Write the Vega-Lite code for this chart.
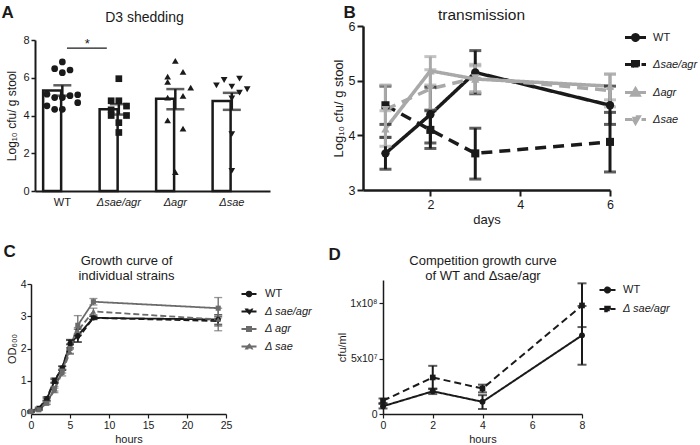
{
  "$schema": "https://vega.github.io/schema/vega-lite/v6.json",
  "padding": {"left": 1, "top": 3, "right": 0, "bottom": 0},
  "background": "white",
  "config": {
    "font": "Liberation Sans",
    "view": {"stroke": null},
    "axis": {"grid": false, "domainColor": "#1a1a1a", "tickColor": "#1a1a1a", "labelColor": "#1a1a1a", "titleColor": "#1a1a1a", "titleFontWeight": "normal", "labelFlush": false},
    "legend": {"padding": 0, "labelColor": "#1a1a1a"}
  },
  "datasets": {
    "A_sum": [
      {"g": "WT", "mean": 5.33, "lo": 5.05, "hi": 5.6},
      {"g": "Δsae/agr", "mean": 4.33, "lo": 4.05, "hi": 4.6},
      {"g": "Δagr", "mean": 4.89, "lo": 4.33, "hi": 5.4},
      {"g": "Δsae", "mean": 4.77, "lo": 4.3, "hi": 5.2}
    ],
    "A_pts": [
      {"g": "WT", "col": 3, "v": 6.84}, {"g": "WT", "col": 2, "v": 6.48}, {"g": "WT", "col": 3, "v": 6.27},
      {"g": "WT", "col": 4, "v": 6.41}, {"g": "WT", "col": 1, "v": 5.13}, {"g": "WT", "col": 2, "v": 4.95},
      {"g": "WT", "col": 3, "v": 4.95}, {"g": "WT", "col": 4, "v": 5.05}, {"g": "WT", "col": 5, "v": 5.1},
      {"g": "WT", "col": 5, "v": 4.68}, {"g": "WT", "col": 1, "v": 4.51}, {"g": "WT", "col": 2, "v": 4.33},
      {"g": "WT", "col": 3, "v": 4.33},
      {"g": "Δsae/agr", "col": 3, "v": 5.95}, {"g": "Δsae/agr", "col": 2, "v": 4.78}, {"g": "Δsae/agr", "col": 3, "v": 4.78},
      {"g": "Δsae/agr", "col": 4, "v": 4.5}, {"g": "Δsae/agr", "col": 2, "v": 4.3}, {"g": "Δsae/agr", "col": 2, "v": 4.0},
      {"g": "Δsae/agr", "col": 4, "v": 4.0}, {"g": "Δsae/agr", "col": 3, "v": 3.62}, {"g": "Δsae/agr", "col": 3, "v": 3.1},
      {"g": "Δagr", "col": 3, "v": 6.89}, {"g": "Δagr", "col": 4, "v": 6.31}, {"g": "Δagr", "col": 2, "v": 6.06},
      {"g": "Δagr", "col": 2, "v": 5.78}, {"g": "Δagr", "col": 5, "v": 5.48}, {"g": "Δagr", "col": 4, "v": 5.04},
      {"g": "Δagr", "col": 2, "v": 4.95}, {"g": "Δagr", "col": 2, "v": 3.74}, {"g": "Δagr", "col": 4, "v": 3.3},
      {"g": "Δagr", "col": 3, "v": 1.0},
      {"g": "Δsae", "col": 2, "v": 5.88}, {"g": "Δsae", "col": 4, "v": 5.95}, {"g": "Δsae", "col": 1, "v": 5.6},
      {"g": "Δsae", "col": 3, "v": 5.53}, {"g": "Δsae", "col": 5, "v": 5.39}, {"g": "Δsae", "col": 4, "v": 5.21},
      {"g": "Δsae", "col": 3, "v": 4.9}, {"g": "Δsae", "col": 3, "v": 3.01}, {"g": "Δsae", "col": 3, "v": 1.07}
    ],
    "A_sig": [{"a": "WT", "b": "Δsae/agr", "y": 7.57, "ystar": 7.8, "label": "*"}],
    "B": [
      {"day": 1, "strain": "WT", "mean": 3.67, "lo": 3.38, "hi": 3.96},
      {"day": 2, "strain": "WT", "mean": 4.38, "lo": 3.86, "hi": 4.88},
      {"day": 3, "strain": "WT", "mean": 5.15, "lo": 4.76, "hi": 5.55},
      {"day": 6, "strain": "WT", "mean": 4.55, "lo": 4.2, "hi": 4.9},
      {"day": 1, "strain": "Δsae/agr", "mean": 4.55, "lo": 4.2, "hi": 4.9},
      {"day": 2, "strain": "Δsae/agr", "mean": 4.1, "lo": 3.76, "hi": 4.45},
      {"day": 3, "strain": "Δsae/agr", "mean": 3.67, "lo": 3.2, "hi": 4.13},
      {"day": 6, "strain": "Δsae/agr", "mean": 3.88, "lo": 3.33, "hi": 4.42},
      {"day": 1, "strain": "Δagr", "mean": 4.12, "lo": 3.8, "hi": 4.45},
      {"day": 2, "strain": "Δagr", "mean": 5.18, "lo": 4.92, "hi": 5.44},
      {"day": 3, "strain": "Δagr", "mean": 5.03, "lo": 4.8, "hi": 5.27},
      {"day": 6, "strain": "Δagr", "mean": 4.9, "lo": 4.65, "hi": 5.12},
      {"day": 1, "strain": "Δsae", "mean": 4.47, "lo": 3.97, "hi": 4.92},
      {"day": 2, "strain": "Δsae", "mean": 4.85, "lo": 4.47, "hi": 5.2},
      {"day": 3, "strain": "Δsae", "mean": 5.05, "lo": 4.78, "hi": 5.3},
      {"day": 6, "strain": "Δsae", "mean": 4.82, "lo": 4.52, "hi": 5.12}
    ],
    "C": [
      {"hour": 0, "strain": "WT", "od": 0.05, "lo": 0.03, "hi": 0.07},
      {"hour": 1, "strain": "WT", "od": 0.12, "lo": 0.1, "hi": 0.14},
      {"hour": 2, "strain": "WT", "od": 0.42, "lo": 0.38, "hi": 0.46},
      {"hour": 3, "strain": "WT", "od": 0.98, "lo": 0.92, "hi": 1.04},
      {"hour": 4, "strain": "WT", "od": 1.4, "lo": 1.34, "hi": 1.46},
      {"hour": 5, "strain": "WT", "od": 2.15, "lo": 2.02, "hi": 2.25},
      {"hour": 6, "strain": "WT", "od": 2.4, "lo": 2.2, "hi": 2.6},
      {"hour": 8, "strain": "WT", "od": 2.95, "lo": 2.9, "hi": 3.0},
      {"hour": 24, "strain": "WT", "od": 2.9, "lo": 2.75, "hi": 3.05},
      {"hour": 0, "strain": "Δ sae/agr", "od": 0.05, "lo": 0.03, "hi": 0.07},
      {"hour": 1, "strain": "Δ sae/agr", "od": 0.15, "lo": 0.12, "hi": 0.18},
      {"hour": 2, "strain": "Δ sae/agr", "od": 0.45, "lo": 0.4, "hi": 0.5},
      {"hour": 3, "strain": "Δ sae/agr", "od": 1.02, "lo": 0.95, "hi": 1.08},
      {"hour": 4, "strain": "Δ sae/agr", "od": 1.38, "lo": 1.32, "hi": 1.44},
      {"hour": 5, "strain": "Δ sae/agr", "od": 2.2, "lo": 2.12, "hi": 2.28},
      {"hour": 6, "strain": "Δ sae/agr", "od": 2.3, "lo": 2.2, "hi": 2.4},
      {"hour": 8, "strain": "Δ sae/agr", "od": 2.95, "lo": 2.9, "hi": 3.0},
      {"hour": 24, "strain": "Δ sae/agr", "od": 2.85, "lo": 2.7, "hi": 3.0},
      {"hour": 0, "strain": "Δ agr", "od": 0.05, "lo": 0.03, "hi": 0.07},
      {"hour": 1, "strain": "Δ agr", "od": 0.1, "lo": 0.08, "hi": 0.12},
      {"hour": 2, "strain": "Δ agr", "od": 0.3, "lo": 0.26, "hi": 0.34},
      {"hour": 3, "strain": "Δ agr", "od": 0.75, "lo": 0.68, "hi": 0.82},
      {"hour": 4, "strain": "Δ agr", "od": 1.3, "lo": 1.24, "hi": 1.36},
      {"hour": 5, "strain": "Δ agr", "od": 2.0, "lo": 1.85, "hi": 2.15},
      {"hour": 6, "strain": "Δ agr", "od": 2.72, "lo": 2.45, "hi": 3.02},
      {"hour": 8, "strain": "Δ agr", "od": 3.45, "lo": 3.35, "hi": 3.55},
      {"hour": 24, "strain": "Δ agr", "od": 3.25, "lo": 2.95, "hi": 3.58},
      {"hour": 0, "strain": "Δ sae", "od": 0.05, "lo": 0.03, "hi": 0.07},
      {"hour": 1, "strain": "Δ sae", "od": 0.1, "lo": 0.08, "hi": 0.12},
      {"hour": 2, "strain": "Δ sae", "od": 0.32, "lo": 0.28, "hi": 0.36},
      {"hour": 3, "strain": "Δ sae", "od": 0.7, "lo": 0.63, "hi": 0.77},
      {"hour": 4, "strain": "Δ sae", "od": 1.25, "lo": 1.15, "hi": 1.35},
      {"hour": 5, "strain": "Δ sae", "od": 1.9, "lo": 1.82, "hi": 1.98},
      {"hour": 6, "strain": "Δ sae", "od": 2.55, "lo": 2.45, "hi": 2.65},
      {"hour": 8, "strain": "Δ sae", "od": 3.15, "lo": 3.05, "hi": 3.25},
      {"hour": 24, "strain": "Δ sae", "od": 2.9, "lo": 2.55, "hi": 3.25}
    ],
    "D": [
      {"hour": 0, "strain": "WT", "cfu": 7000000, "lo": 5000000, "hi": 9000000},
      {"hour": 2, "strain": "WT", "cfu": 20500000, "lo": 18000000, "hi": 23000000},
      {"hour": 4, "strain": "WT", "cfu": 11000000, "lo": 4500000, "hi": 17000000},
      {"hour": 8, "strain": "WT", "cfu": 71000000, "lo": 44500000, "hi": 97500000},
      {"hour": 0, "strain": "Δ sae/agr", "cfu": 12000000, "lo": 10000000, "hi": 14000000},
      {"hour": 2, "strain": "Δ sae/agr", "cfu": 33000000, "lo": 22500000, "hi": 43500000},
      {"hour": 4, "strain": "Δ sae/agr", "cfu": 23000000, "lo": 19500000, "hi": 26500000},
      {"hour": 8, "strain": "Δ sae/agr", "cfu": 98000000, "lo": 78500000, "hi": 118000000}
    ]
  },
  "columns": 2,
  "bounds": "flush",
  "spacing": {"row": 89, "column": 93},
  "resolve": {"scale": {"color": "independent", "shape": "independent", "strokeDash": "independent", "xOffset": "independent"}, "legend": {"color": "independent", "shape": "independent", "strokeDash": "independent"}},
  "concat": [
    {
      "width": 239,
      "height": 165,
      "layer": [
        {
          "data": {"name": "A_sum"},
          "mark": {"type": "bar", "fill": "white", "stroke": "#1a1a1a", "strokeWidth": 2.5},
          "encoding": {
            "x": {"field": "g", "type": "nominal", "sort": ["WT", "Δsae/agr", "Δagr", "Δsae"],
              "scale": {"domain": ["WT", "Δsae/agr", "Δagr", "Δsae"], "range": [4, 239], "paddingInner": 0.32, "paddingOuter": 0.24, "align": 0.3},
              "axis": {"orient": "bottom", "title": null, "ticks": false, "domainWidth": 2, "labelAngle": 0, "labelFontSize": 11, "labelPadding": 5,
                "labelFontStyle": {"condition": {"test": "datum.value === 'WT'", "value": "normal"}, "value": "italic"}}},
            "y": {"field": "mean", "type": "quantitative",
              "scale": {"domain": [0, 8], "range": [165, 14], "nice": false, "zero": true},
              "axis": {"orient": "left", "offset": -4, "title": "Log₁₀ cfu/ g stool", "values": [0, 2, 4, 6, 8], "tickSize": 4, "tickWidth": 1.5, "domainWidth": 2, "labelFontSize": 11, "labelPadding": 2, "titleFontSize": 12, "titlePadding": 4}}
          }
        },
        {
          "data": {"name": "A_sum"},
          "mark": {"type": "errorbar", "color": "#1a1a1a", "ticks": {"size": 18, "thickness": 2.5}, "rule": {"strokeWidth": 2.5}},
          "encoding": {
            "x": {"field": "g", "type": "nominal", "sort": ["WT", "Δsae/agr", "Δagr", "Δsae"], "axis": null},
            "y": {"field": "lo", "type": "quantitative", "axis": null},
            "y2": {"field": "hi"}
          }
        },
        {
          "data": {"name": "A_pts"},
          "mark": {"type": "point", "filled": true, "opacity": 1, "color": "#1a1a1a", "size": 45},
          "encoding": {
            "x": {"field": "g", "type": "nominal", "sort": ["WT", "Δsae/agr", "Δagr", "Δsae"],
              "axis": {"orient": "top", "title": "D3 shedding", "titleX": 113, "titleY": -5, "titleAlign": "center", "titleBaseline": "alphabetic", "titleAngle": 0, "titleFontSize": 14, "domain": false, "ticks": false, "labels": false, "grid": false}},
            "xOffset": {"field": "col", "type": "ordinal"},
            "y": {"field": "v", "type": "quantitative",
              "axis": {"orient": "left", "title": "A", "titleX": -30, "titleY": -8.3, "titleAngle": 0, "titleAlign": "left", "titleBaseline": "alphabetic", "titleFontSize": 17, "titleFontWeight": "bold", "domain": false, "ticks": false, "labels": false, "grid": false}},
            "shape": {"field": "g", "type": "nominal", "scale": {"domain": ["WT", "Δsae/agr", "Δagr", "Δsae"], "range": ["circle", "square", "triangle-up", "triangle-down"]}, "legend": null}
          }
        },
        {
          "data": {"name": "A_sig"},
          "mark": {"type": "rule", "strokeWidth": 1.2, "color": "#1a1a1a", "x2Offset": -12},
          "encoding": {
            "x": {"field": "a", "type": "nominal", "sort": ["WT", "Δsae/agr", "Δagr", "Δsae"], "bandPosition": 0.62, "axis": null},
            "x2": {"field": "b"},
            "y": {"field": "y", "type": "quantitative", "axis": null}
          }
        },
        {
          "data": {"name": "A_sig"},
          "mark": {"type": "text", "dx": 25, "fontSize": 13, "baseline": "middle", "color": "#1a1a1a"},
          "encoding": {
            "x": {"field": "a", "type": "nominal", "sort": ["WT", "Δsae/agr", "Δagr", "Δsae"], "axis": null},
            "y": {"field": "ystar", "type": "quantitative", "axis": null},
            "text": {"field": "label"}
          }
        }
      ],
      "resolve": {"axis": {"x": "independent", "y": "independent"}}
    },
    {
      "width": 247,
      "height": 164,
      "data": {"name": "B"},
      "layer": [
        {
          "mark": {"type": "line", "strokeWidth": 3.5},
          "encoding": {
            "x": {"field": "day", "type": "quantitative", "scale": {"domain": [0.5, 6], "range": [0, 247], "nice": false, "zero": false},
              "axis": {"orient": "bottom", "title": "days", "values": [2, 4, 6], "tickSize": 6, "tickWidth": 2, "domainWidth": 2.5, "labelFontSize": 12.5, "labelPadding": 2, "titleFontSize": 13, "titlePadding": 3}},
            "y": {"field": "mean", "type": "quantitative", "scale": {"domain": [3, 6], "range": [164, 0], "nice": false, "zero": false},
              "axis": {"orient": "left", "title": "Log₁₀ cfu/ g stool", "values": [3, 4, 5, 6], "tickSize": 6, "tickWidth": 2, "domainWidth": 2.5, "labelFontSize": 12.5, "labelPadding": 2, "titleFontSize": 13, "titlePadding": 3}},
            "color": {"field": "strain", "type": "nominal", "sort": ["WT", "Δsae/agr", "Δagr", "Δsae"], "scale": {"domain": ["WT", "Δsae/agr", "Δagr", "Δsae"], "range": ["#1a1a1a", "#1a1a1a", "#a9a9a9", "#a9a9a9"]},
              "legend": {"orient": "none", "legendX": 266, "legendY": 5, "title": null, "direction": "vertical", "symbolSize": 100,
                "symbolType": {"expr": "datum.value==='WT'?'M-2.1,0H2.1M0.6,0A0.6,0.6,0,1,1,-0.6,0A0.6,0.6,0,1,1,0.6,0Z':datum.value==='Δsae/agr'?'M-2.1,0H-0.6M1.2,0H2.1M-0.6,-0.6H0.6V0.6H-0.6Z':datum.value==='Δagr'?'M-2.1,0H2.1M0,-0.75L0.75,0.55H-0.75Z':'M-2.1,0H-0.6M1.2,0H2.1M0,0.75L0.75,-0.55H-0.75Z'"},
                "symbolFillColor": {"expr": "(datum.value==='WT'||datum.value==='Δsae/agr')?'#1a1a1a':'#a9a9a9'"},
                "symbolStrokeWidth": 3, "symbolOpacity": 1, "symbolDash": [1, 0],
                "labelOffset": 11, "rowPadding": 8, "labelFontSize": 11, "labelFontStyle": {"expr": "datum.value==='WT'?'normal':'italic'"}, "padding": 0}},
            "strokeDash": {"field": "strain", "type": "nominal", "sort": ["WT", "Δsae/agr", "Δagr", "Δsae"], "scale": {"domain": ["WT", "Δsae/agr", "Δagr", "Δsae"], "range": [[1, 0], [11, 7], [1, 0], [11, 7]]}, "legend": null}
          }
        },
        {
          "mark": {"type": "errorbar", "ticks": {"size": 12, "thickness": 3}, "rule": {"strokeWidth": 3}},
          "encoding": {
            "x": {"field": "day", "type": "quantitative", "axis": null},
            "y": {"field": "lo", "type": "quantitative", "axis": null},
            "y2": {"field": "hi"},
            "color": {"field": "strain", "type": "nominal", "sort": ["WT", "Δsae/agr", "Δagr", "Δsae"], "scale": {"domain": ["WT", "Δsae/agr", "Δagr", "Δsae"], "range": ["#1a1a1a", "#1a1a1a", "#a9a9a9", "#a9a9a9"]}, "legend": null}
          }
        },
        {
          "transform": [{"filter": {"field": "strain", "equal": "WT"}}],
          "mark": {"type": "point", "filled": true, "opacity": 1, "size": 70, "shape": "circle", "color": "#1a1a1a"},
          "encoding": {
            "x": {"field": "day", "type": "quantitative",
              "axis": {"orient": "top", "title": "transmission", "titleX": 118, "titleY": -6.7, "titleAlign": "center", "titleBaseline": "alphabetic", "titleAngle": 0, "titleFontSize": 15.5, "domain": false, "ticks": false, "labels": false, "grid": false}},
            "y": {"field": "mean", "type": "quantitative",
              "axis": {"orient": "left", "title": "B", "titleX": -20, "titleY": -8.3, "titleAngle": 0, "titleAlign": "left", "titleBaseline": "alphabetic", "titleFontSize": 17, "titleFontWeight": "bold", "domain": false, "ticks": false, "labels": false, "grid": false}}
          }
        },
        {
          "transform": [{"filter": {"field": "strain", "equal": "Δsae/agr"}}],
          "mark": {"type": "point", "filled": true, "opacity": 1, "size": 65, "shape": "square", "color": "#1a1a1a"},
          "encoding": {
            "x": {"field": "day", "type": "quantitative", "axis": null},
            "y": {"field": "mean", "type": "quantitative", "axis": null}
          }
        },
        {
          "transform": [{"filter": {"field": "strain", "equal": "Δagr"}}],
          "mark": {"type": "point", "filled": true, "opacity": 1, "size": 70, "shape": "triangle-up", "color": "#a9a9a9"},
          "encoding": {
            "x": {"field": "day", "type": "quantitative", "axis": null},
            "y": {"field": "mean", "type": "quantitative", "axis": null}
          }
        },
        {
          "transform": [{"filter": {"field": "strain", "equal": "Δsae"}}],
          "mark": {"type": "point", "filled": true, "opacity": 1, "size": 70, "shape": "triangle-down", "color": "#a9a9a9"},
          "encoding": {
            "x": {"field": "day", "type": "quantitative", "axis": null},
            "y": {"field": "mean", "type": "quantitative", "axis": null}
          }
        }
      ],
      "resolve": {"axis": {"x": "independent", "y": "independent"}}
    },
    {
      "width": 195,
      "height": 134,
      "data": {"name": "C"},
      "layer": [
        {
          "mark": {"type": "line", "strokeWidth": 1.8},
          "encoding": {
            "x": {"field": "hour", "type": "quantitative", "scale": {"domain": [0, 25], "nice": false},
              "axis": {"orient": "bottom", "title": "hours", "values": [0, 5, 10, 15, 20, 25], "tickSize": 4, "tickWidth": 1.2, "domainWidth": 1.5, "labelFontSize": 10.5, "labelPadding": 2, "titleFontSize": 11, "titlePadding": 3}},
            "y": {"field": "od", "type": "quantitative", "scale": {"domain": [0, 4], "range": [133, 4], "nice": false},
              "axis": {"orient": "left", "title": "OD₆₀₀", "values": [0, 1, 2, 3, 4], "tickSize": 4, "tickWidth": 1.2, "domainWidth": 1.5, "labelFontSize": 10.5, "labelPadding": 1, "titleFontSize": 11, "titlePadding": 3}},
            "color": {"field": "strain", "type": "nominal", "sort": ["WT", "Δ sae/agr", "Δ agr", "Δ sae"], "scale": {"domain": ["WT", "Δ sae/agr", "Δ agr", "Δ sae"], "range": ["#1a1a1a", "#1a1a1a", "#6b6b6b", "#6b6b6b"]},
              "legend": {"orient": "none", "legendX": 212.5, "legendY": 8.5, "title": null, "direction": "vertical", "symbolSize": 36,
                "symbolType": {"expr": "datum.value==='WT'?'M-2.5,0H2.5M0.8,0A0.8,0.8,0,1,1,-0.8,0A0.8,0.8,0,1,1,0.8,0Z':datum.value==='Δ sae/agr'?'M-2.5,0H2.5M0,0.9L0.95,-0.7H-0.95Z':datum.value==='Δ agr'?'M-2.5,0H2.5M-0.7,-0.7H0.7V0.7H-0.7Z':'M-2.5,0H2.5M0,-0.9L0.95,0.7H-0.95Z'"},
                "symbolFillColor": {"expr": "(datum.value==='WT'||datum.value==='Δ sae/agr')?'#1a1a1a':'#6b6b6b'"},
                "symbolStrokeWidth": 1.8, "symbolOpacity": 1, "symbolDash": [1, 0],
                "labelOffset": 10.5, "rowPadding": 4.5, "labelFontSize": 11, "labelFontStyle": {"expr": "datum.value==='WT'?'normal':'italic'"}, "padding": 0}},
            "strokeDash": {"field": "strain", "type": "nominal", "sort": ["WT", "Δ sae/agr", "Δ agr", "Δ sae"], "scale": {"domain": ["WT", "Δ sae/agr", "Δ agr", "Δ sae"], "range": [[1, 0], [6, 3], [1, 0], [6, 3]]}, "legend": null}
          }
        },
        {
          "mark": {"type": "errorbar", "ticks": {"size": 8, "thickness": 1.3}, "rule": {"strokeWidth": 1.3}},
          "encoding": {
            "x": {"field": "hour", "type": "quantitative", "axis": null},
            "y": {"field": "lo", "type": "quantitative", "axis": null},
            "y2": {"field": "hi"},
            "color": {"field": "strain", "type": "nominal", "sort": ["WT", "Δ sae/agr", "Δ agr", "Δ sae"], "scale": {"domain": ["WT", "Δ sae/agr", "Δ agr", "Δ sae"], "range": ["#1a1a1a", "#1a1a1a", "#6b6b6b", "#6b6b6b"]}, "legend": null}
          }
        },
        {
          "transform": [{"filter": {"field": "strain", "equal": "WT"}}],
          "mark": {"type": "point", "filled": true, "opacity": 1, "size": 28, "shape": "circle", "color": "#1a1a1a"},
          "encoding": {
            "x": {"field": "hour", "type": "quantitative",
              "axis": {"orient": "top", "title": ["Growth curve of", "individual strains"], "titleLineHeight": 15, "titleX": 95, "titleY": -26, "titleAlign": "center", "titleBaseline": "top", "titleAngle": 0, "titleFontSize": 13, "domain": false, "ticks": false, "labels": false, "grid": false}},
            "y": {"field": "od", "type": "quantitative",
              "axis": {"orient": "left", "title": "C", "titleX": -28, "titleY": -24, "titleAngle": 0, "titleAlign": "left", "titleBaseline": "alphabetic", "titleFontSize": 17, "titleFontWeight": "bold", "domain": false, "ticks": false, "labels": false, "grid": false}}
          }
        },
        {
          "transform": [{"filter": {"field": "strain", "equal": "Δ sae/agr"}}],
          "mark": {"type": "point", "filled": true, "opacity": 1, "size": 28, "shape": "triangle-down", "color": "#1a1a1a"},
          "encoding": {
            "x": {"field": "hour", "type": "quantitative", "axis": null},
            "y": {"field": "od", "type": "quantitative", "axis": null}
          }
        },
        {
          "transform": [{"filter": {"field": "strain", "equal": "Δ agr"}}],
          "mark": {"type": "point", "filled": true, "opacity": 1, "size": 26, "shape": "square", "color": "#6b6b6b"},
          "encoding": {
            "x": {"field": "hour", "type": "quantitative", "axis": null},
            "y": {"field": "od", "type": "quantitative", "axis": null}
          }
        },
        {
          "transform": [{"filter": {"field": "strain", "equal": "Δ sae"}}],
          "mark": {"type": "point", "filled": true, "opacity": 1, "size": 28, "shape": "triangle-up", "color": "#6b6b6b"},
          "encoding": {
            "x": {"field": "hour", "type": "quantitative", "axis": null},
            "y": {"field": "od", "type": "quantitative", "axis": null}
          }
        }
      ],
      "resolve": {"axis": {"x": "independent", "y": "independent"}}
    },
    {
      "width": 219,
      "height": 134,
      "data": {"name": "D"},
      "layer": [
        {
          "mark": {"type": "line", "strokeWidth": 2},
          "encoding": {
            "x": {"field": "hour", "type": "quantitative", "scale": {"domain": [0, 8], "range": [20, 219], "nice": false},
              "axis": {"orient": "bottom", "title": "hours", "values": [0, 2, 4, 6, 8], "tickSize": 4, "tickWidth": 1.2, "domainWidth": 1.5, "labelFontSize": 10.5, "labelPadding": 2, "titleFontSize": 11, "titlePadding": 3}},
            "y": {"field": "cfu", "type": "quantitative", "scale": {"domain": [0, 121000000], "nice": false},
              "axis": {"orient": "left", "offset": -20, "title": "cfu/ml", "values": [0, 50000000, 100000000], "labelExpr": "datum.value === 0 ? '0' : datum.value === 50000000 ? '5x10⁷' : '1x10⁸'", "tickSize": 4, "tickWidth": 1.2, "domainWidth": 1.5, "labelFontSize": 10.5, "labelPadding": 2, "titleFontSize": 11, "titlePadding": 2}},
            "color": {"field": "strain", "type": "nominal", "sort": ["WT", "Δ sae/agr"], "scale": {"domain": ["WT", "Δ sae/agr"], "range": ["#1a1a1a", "#1a1a1a"]},
              "legend": {"orient": "none", "legendX": 239, "legendY": 4.5, "title": null, "direction": "vertical", "symbolSize": 36,
                "symbolType": {"expr": "datum.value==='WT'?'M-2.67,0H2.67M0.85,0A0.85,0.85,0,1,1,-0.85,0A0.85,0.85,0,1,1,0.85,0Z':'M-2.67,0H2.67M-0.75,-0.75H0.75V0.75H-0.75Z'"},
                "symbolFillColor": "#1a1a1a", "symbolStrokeWidth": 2, "symbolOpacity": 1, "symbolDash": [1, 0],
                "labelOffset": 10, "rowPadding": 5, "labelFontSize": 11, "labelFontStyle": {"expr": "datum.value==='WT'?'normal':'italic'"}, "padding": 0}},
            "strokeDash": {"field": "strain", "type": "nominal", "sort": ["WT", "Δ sae/agr"], "scale": {"domain": ["WT", "Δ sae/agr"], "range": [[1, 0], [7, 4]]}, "legend": null}
          }
        },
        {
          "mark": {"type": "errorbar", "color": "#1a1a1a", "ticks": {"size": 9, "thickness": 2}, "rule": {"strokeWidth": 2}},
          "encoding": {
            "x": {"field": "hour", "type": "quantitative", "axis": null},
            "y": {"field": "lo", "type": "quantitative", "axis": null},
            "y2": {"field": "hi"}
          }
        },
        {
          "transform": [{"filter": {"field": "strain", "equal": "WT"}}],
          "mark": {"type": "point", "filled": true, "opacity": 1, "size": 35, "shape": "circle", "color": "#1a1a1a"},
          "encoding": {
            "x": {"field": "hour", "type": "quantitative",
              "axis": {"orient": "top", "title": ["Competition growth curve", "of WT and Δsae/agr"], "titleLineHeight": 15, "titleX": 119.5, "titleY": -26, "titleAlign": "center", "titleBaseline": "top", "titleAngle": 0, "titleFontSize": 13, "domain": false, "ticks": false, "labels": false, "grid": false}},
            "y": {"field": "cfu", "type": "quantitative",
              "axis": {"orient": "left", "title": "D", "titleX": -35, "titleY": -21, "titleAngle": 0, "titleAlign": "left", "titleBaseline": "alphabetic", "titleFontSize": 17, "titleFontWeight": "bold", "domain": false, "ticks": false, "labels": false, "grid": false}}
          }
        },
        {
          "transform": [{"filter": {"field": "strain", "equal": "Δ sae/agr"}}],
          "mark": {"type": "point", "filled": true, "opacity": 1, "size": 32, "shape": "square", "color": "#1a1a1a"},
          "encoding": {
            "x": {"field": "hour", "type": "quantitative", "axis": null},
            "y": {"field": "cfu", "type": "quantitative", "axis": null}
          }
        }
      ],
      "resolve": {"axis": {"x": "independent", "y": "independent"}}
    }
  ]
}
